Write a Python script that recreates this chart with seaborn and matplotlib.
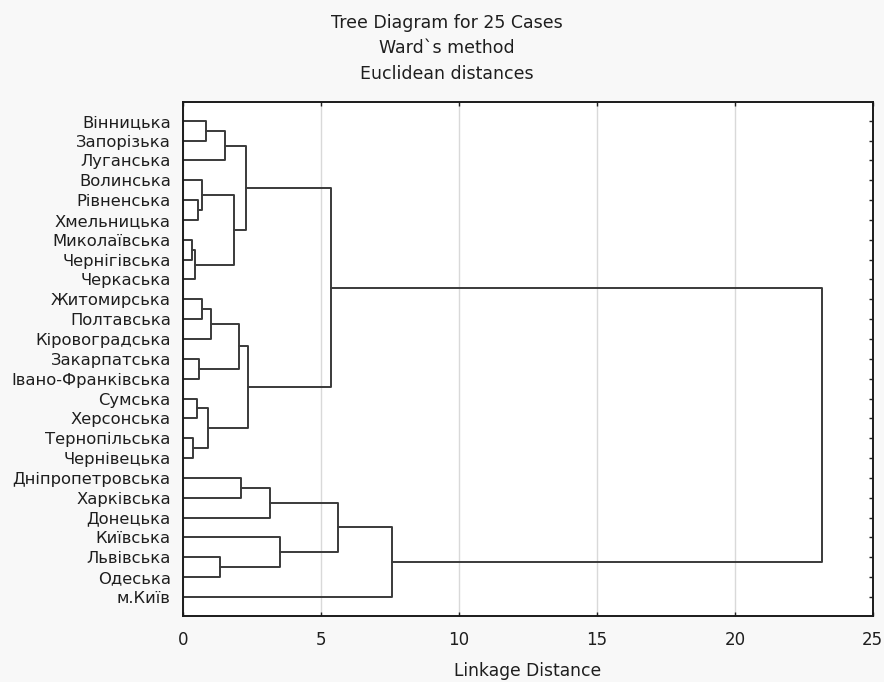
import numpy as np
import pandas as pd
import matplotlib
matplotlib.use("Agg")
import matplotlib.pyplot as plt
import seaborn as sns

# leaf labels, top to bottom
regions = [
    "Вінницька", "Запорізька", "Луганська", "Волинська", "Рівненська",
    "Хмельницька", "Миколаївська", "Чернігівська", "Черкаська", "Житомирська",
    "Полтавська", "Кіровоградська", "Закарпатська", "Івано-Франківська", "Сумська",
    "Херсонська", "Тернопільська", "Чернівецька", "Дніпропетровська", "Харківська",
    "Донецька", "Київська", "Львівська", "Одеська", "м.Київ",
]

# merge steps (linkage style): ids < 25 are leaves, new cluster id = 25 + step
merge_a = [6, 16, 25, 14, 4, 12, 3, 9, 0, 28, 32, 22, 33, 31, 35, 18, 37, 39, 40, 21, 41, 43, 46, 45]
merge_b = [7, 17, 8, 15, 5, 13, 29, 10, 1, 26, 11, 23, 2, 27, 30, 19, 38, 34, 20, 36, 42, 44, 24, 47]
merge_dist = [0.33, 0.36, 0.42, 0.50, 0.52, 0.58, 0.68, 0.69, 0.83, 0.90, 0.99, 1.34,
              1.50, 1.83, 2.02, 2.08, 2.29, 2.33, 3.16, 3.52, 5.34, 5.60, 7.55, 23.16]

x_ticks = [0, 5, 10, 15, 20, 25]

# position of every node: (distance, row)
n = len(regions)
node_x = {i: 0.0 for i in range(n)}
node_y = {i: float(i) for i in range(n)}
rows = []
for k, (a, b, d) in enumerate(zip(merge_a, merge_b, merge_dist)):
    pts = [(node_x[a], node_y[a]), (d, node_y[a]), (d, node_y[b]), (node_x[b], node_y[b])]
    for px, py in pts:
        rows.append({"seg": k, "x": px, "y": py})
    node_x[n + k] = d
    node_y[n + k] = (node_y[a] + node_y[b]) / 2
segs = pd.DataFrame(rows)

sns.set_theme(style="white")
plt.rcParams["font.family"] = ["DejaVu Sans"]

txt = "#1e1e1e"
fig = plt.figure(figsize=(8.84, 6.82), dpi=100, facecolor="#f8f8f8")
ax = fig.add_axes([0.2074, 0.0968, 0.7798, 0.7532])
ax.set_facecolor("white")

ax.grid(axis="x", color="#d9d9d9", lw=1)
ax.set_axisbelow(True)

sns.lineplot(data=segs, x="x", y="y", units="seg", estimator=None, sort=False,
             color="#3a3a3a", lw=1.4, ax=ax, legend=False)

ax.set_xlim(0, 25)
ax.set_ylim(n - 1 + 0.96, -0.93)
ax.set_xticks(x_ticks)
ax.set_xticklabels([str(t) for t in x_ticks], fontsize=12)
ax.set_yticks(range(n))
ax.set_yticklabels(regions, fontsize=11.8, color=txt)
ax.tick_params(axis="y", left=False, right=True, direction="in", length=3, width=1,
               color="#222222", pad=9)
ax.tick_params(axis="x", bottom=True, top=True, direction="in", length=3, width=1,
               color="#222222", pad=11, labelcolor=txt)
for s in ax.spines.values():
    s.set_color("#1a1a1a")
    s.set_linewidth(1.4)

ax.set_xlabel("Linkage Distance", fontsize=12.3, color=txt, labelpad=9)
ax.set_ylabel("")

fig.text(0.506, 0.966, "Tree Diagram for 25 Cases", ha="center", va="center", fontsize=12.5, color=txt)
fig.text(0.506, 0.929, "Ward`s method", ha="center", va="center", fontsize=12.5, color=txt)
fig.text(0.506, 0.892, "Euclidean distances", ha="center", va="center", fontsize=12.5, color=txt)

fig.savefig("out.png", dpi=100, facecolor=fig.get_facecolor())
